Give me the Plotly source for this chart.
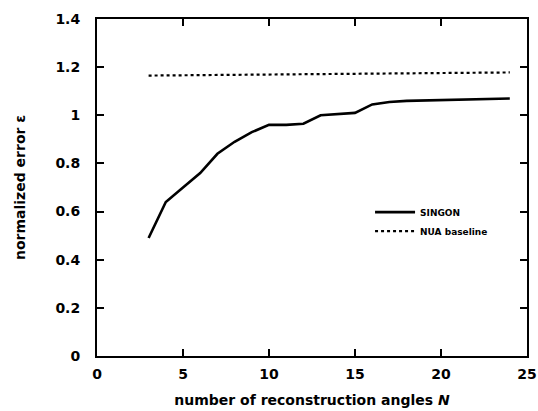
import plotly.graph_objects as go

# Reconstruction error versus number of projection angles
n_angles = [3, 4, 5, 6, 7, 8, 9, 10, 11, 12, 13, 14, 15, 16, 17, 18, 19, 20, 21, 22, 23, 24]
singon_error = [0.49, 0.64, 0.70, 0.76, 0.84, 0.89, 0.93, 0.96, 0.96, 0.965, 1.0, 1.005,
                1.01, 1.045, 1.055, 1.06, 1.062, 1.064, 1.065, 1.066, 1.068, 1.07]

baseline_n = [3, 24]
baseline_error = [1.165, 1.178]

x_ticks = [0, 5, 10, 15, 20, 25]
y_ticks = [0, 0.2, 0.4, 0.6, 0.8, 1.0, 1.2, 1.4]
y_tick_text = ["0", "0.2", "0.4", "0.6", "0.8", "1", "1.2", "1.4"]

font_family = "'DejaVu Sans', sans-serif"

fig = go.Figure()
fig.add_trace(go.Scatter(
    x=n_angles, y=singon_error, mode="lines", name="<b>SINGON</b>",
    line=dict(color="black", width=2.6),
))
fig.add_trace(go.Scatter(
    x=baseline_n, y=baseline_error, mode="lines", name="<b>NUA baseline</b>",
    line=dict(color="black", width=2.2, dash="dot"),
))

axis_common = dict(
    showgrid=False, zeroline=False, showline=True, linecolor="black", linewidth=2,
    mirror="ticks", ticks="inside", ticklen=7, tickwidth=1.5, tickcolor="black",
    tickfont=dict(family=font_family, size=14, color="black", weight="bold"),
    automargin=False,
)

fig.update_xaxes(
    range=[0, 25], tickvals=x_ticks, ticklabelstandoff=4, **axis_common,
    title=dict(text="<b>number of reconstruction angles <i>N</i></b>",
               font=dict(family=font_family, size=14, color="black"), standoff=14),
)
fig.update_yaxes(
    range=[0, 1.4], tickvals=y_ticks, ticktext=y_tick_text, ticklabelstandoff=12,
    **axis_common,
    title=dict(text="<b>normalized error ε</b>",
               font=dict(family=font_family, size=14, color="black"), standoff=26),
)

fig.update_layout(
    width=538, height=411,
    margin=dict(l=97, r=11, t=19, b=55),
    paper_bgcolor="white", plot_bgcolor="white",
    legend=dict(
        x=0.635, y=0.47, xanchor="left", yanchor="top",
        bgcolor="rgba(0,0,0,0)", tracegroupgap=10,
        font=dict(family=font_family, size=9, color="black"),
        itemwidth=40,
    ),
)

fig.write_html("out.html")
